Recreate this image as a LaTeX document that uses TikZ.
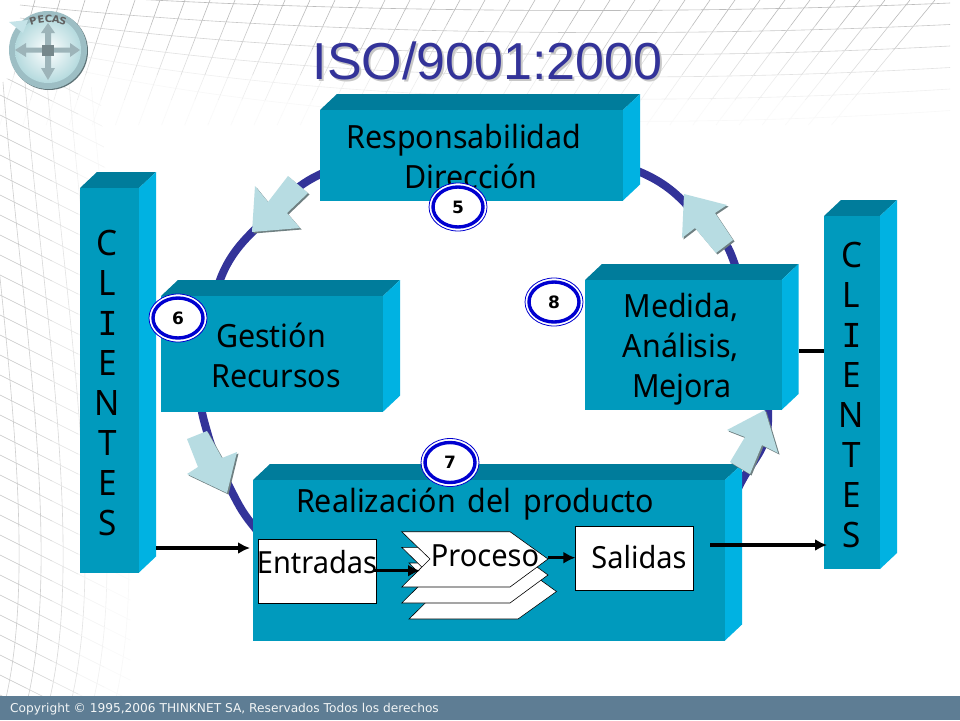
\documentclass[tikz,border=0pt]{standalone}
\usepackage{fontspec}
\usetikzlibrary{shapes.geometric,arrows.meta,calc}
\setmainfont[FakeStretch=0.95]{Noto Sans}
\newfontfamily\titlefont{Liberation Sans}
\newfontfamily\badgefont{DejaVu Sans}
\newfontfamily\monoI{DejaVu Sans Mono}
\definecolor{frontc}{HTML}{009ABD}
\definecolor{topc}{HTML}{007C9B}
\definecolor{sidec}{HTML}{00B2E2}
\definecolor{ringc}{HTML}{333399}
\definecolor{blockc}{HTML}{B7DCE2}
\definecolor{blockshade}{HTML}{6F8082}
\definecolor{badgeblue}{HTML}{0000D0}
\definecolor{meshc}{HTML}{8C8C8C}
\definecolor{footc}{HTML}{5E7D94}
\definecolor{logoedge}{HTML}{9DBEC4}
\definecolor{logoin}{HTML}{B5DADE}
\definecolor{logoarrow}{HTML}{9DB4B9}
\tikzset{
  lbl/.style={anchor=base,inner sep=0pt,font=\fontsize{32}{36}\selectfont,text=black},
  inlbl/.style={anchor=base,inner sep=0pt,font=\fontsize{30.5}{36}\selectfont,text=black},
  arr/.style={line width=3.2pt,-{Latex[length=12pt,width=12pt]}},
  plain/.style={line width=3.2pt},
  paper/.style={fill=white,draw=black,line width=0.7pt},
  frontface/.style={rectangle,fill=frontc,inner sep=0pt,outer sep=0pt},
}
\newcommand{\cubebox}[6]{%
  \fill[topc] (#2,#3) -- ({#2+#6},{#3-16}) -- ({#4+#6},{#3-16}) -- (#4,#3) -- cycle;
  \fill[sidec] (#4,#3) -- ({#4+#6},{#3-16}) -- ({#4+#6},{#5-16}) -- (#4,#5) -- cycle;
  \node[frontface,minimum width={#4-#2},minimum height={#5-#3}] (#1) at ({(#2+#4)/2},{(#3+#5)/2}) {};
}
\newcommand{\blockarrow}[1]{%
  \fill[blockshade] [shift={(1.5,1.5)}] #1;
  \fill[blockc] #1;
}
\newcommand{\badge}[4]{%
  \node[ellipse,draw=badgeblue,line width=0.8pt,fill=white,minimum width=58pt,minimum height=48pt,inner sep=0pt] (#1o) at (#2,#3) {};
  \node[ellipse,draw=badgeblue,line width=3.4pt,fill=white,minimum width=50pt,minimum height=40pt,inner sep=0pt,font=\badgefont\bfseries\fontsize{17}{19}\selectfont] (#1) at (#2,#3) {#4};
}
\begin{document}
\begin{tikzpicture}[x=1pt,y=-1pt]
\useasboundingbox (0,0) rectangle (960,720);
\fill[white] (0,0) rectangle (960,720);
% background mesh, top
\begin{scope}
\clip (0,0) rectangle (960,696);
\foreach \k/\p in {0/58,1/48,2/38,3/25,4/13,5/6}{
  \draw[meshc!\p,line width=0.6pt] (20,{-8+13*\k}) .. controls (300,{12+23*\k}) and (650,{16+23*\k}) .. (950,{3+21.5*\k});
}
\foreach \i in {0,...,36}{
  \pgfmathsetmacro\xt{35+25*\i}
  \pgfmathsetmacro\dxx{40+(\xt-100)*0.076}
  \foreach \s/\p in {0/60,1/46,2/30,3/15,4/5}{
    \draw[meshc!\p,line width=0.6pt] ({\xt-\dxx*\s/5},{25*\s}) -- ({\xt-\dxx*(\s+1)/5},{25*(\s+1)});
  }
}
\end{scope}
% background mesh, left
\begin{scope}
\clip (0,78) -- (100,88) -- (140,696) -- (0,696) -- cycle;
\foreach \j/\p in {-5/42,-4/42,-3/42,-2/42,-1/42,0/42,1/34,2/24,3/13,4/6}{
  \draw[meshc!\p,line width=0.6pt] ({3+22*\j},82) .. controls ({20+22*\j},300) and ({65+22*\j},560) .. ({25+22*\j},710);
}
\foreach \n in {0,...,32}{
  \pgfmathsetmacro\ya{85+20*\n}
  \foreach \s/\p in {0/50,1/40,2/24,3/10,4/4}{
    \draw[meshc!\p,line width=0.6pt] ({26*\s},{\ya-30+13*\s}) -- ({26*(\s+1)},{\ya-30+13*(\s+1)});
  }
}
\end{scope}
% footer
\fill[footc] (0,696) rectangle (960,720);
\node[anchor=base west,inner sep=0pt,text=white!92!footc,font=\badgefont\fontsize{12.2}{14}\selectfont] (foot) at (10,712) {Copyright © 1995,2006 THINKNET SA, Reservados Todos los derechos};
% logo
\fill[logoedge!60!black] (49,51) circle (39);
\fill[logoedge] (48,50) circle (39);
\shade[inner color=white,outer color=logoin] (48,50) circle (33);
\fill[blockc!80!white] (9,22) -- (28,20) -- (23,33) -- cycle;
\fill[logoarrow] (15,50) -- (26,43) -- (26,47.5) -- (70,47.5) -- (70,43) -- (80,50) -- (70,57) -- (70,52.5) -- (26,52.5) -- (26,57) -- cycle;
\fill[logoarrow] (48,23) -- (55,33) -- (51,33) -- (51,68) -- (55,68) -- (48,80) -- (41,68) -- (45,68) -- (45,33) -- (41,33) -- cycle;
\fill[logoarrow!75!black] (42,45) rectangle (54,56);
\foreach \nm/\c/\x/\y/\r in {l1/P/33/21/17,l2/E/41/19/8,l3/C/48.5/18.5/0,l4/A/56/19/-8,l5/S/63/21/-17}{
  \node[inner sep=0pt,rotate=\r,text=black!62,font=\badgefont\bfseries\fontsize{10}{11}\selectfont] (\nm) at (\x,\y) {\c};
}
% title with its soft shadow
\node[anchor=base,inner sep=0pt,text=ringc,font=\titlefont\fontsize{52}{60}\selectfont] (title) at (487.5,79.5) {\rlap{\hspace{2pt}\raisebox{-2pt}{\textcolor{black!22}{ISO/9001:2000}}}ISO/9001:2000};
% ring
\draw[ringc,line width=8pt] plot[smooth cycle,tension=.6] coordinates {(330,170) (270,215) (222,275) (201,380) (208,435) (232,492) (255,528) (300,575) (480,620) (680,560) (744,477) (768,410) (735,265) (705,225) (640,172) (480,130)};
% boxes
\cubebox{resp}{320}{110}{623}{200.5}{17}
\cubebox{clil}{80}{188}{139}{572.5}{17}
\cubebox{gest}{161}{296}{383}{411.7}{17}
\cubebox{real}{253}{480}{725}{640.5}{17}
\cubebox{medi}{585}{280}{781.5}{410}{17}
\cubebox{clir}{824}{216}{880}{569}{17}
% block arrows
\blockarrow{(288,176) -- (308,193) -- (287,213) -- (300,228) -- (252,232) -- (255,186) -- (268,202) -- cycle}
\blockarrow{(684,194) -- (727,205) -- (715,213) -- (733,240) -- (716,253) -- (695,228) -- (682,238) -- cycle}
\blockarrow{(765,410) -- (778,453) -- (762,445) -- (750,474) -- (730,462) -- (745,437) -- (727,430) -- cycle}
\blockarrow{(227,493) -- (187,474) -- (198,467) -- (187,439) -- (207,431) -- (222,458) -- (237,452) -- cycle}
% labels in boxes
\node[lbl] (tresp) at (464,148) {Responsabilidad};
\node[lbl] (tdir) at (471,188) {Dirección};
\node[lbl] (tgest) at (271,347) {Gestión};
\node[lbl] (trec) at (276,387) {Recursos};
\node[lbl] (tmed) at (681,317) {Medida,};
\node[lbl] (tana) at (681,357) {Análisis,};
\node[lbl] (tmej) at (682,397) {Mejora};
\node[lbl] (treal) at (475,512) {Realización\hspace{12pt}del\hspace{12pt}producto};
\node[align=center,inner sep=0pt,font=\fontsize{35}{40}\selectfont] (cl) at (107.5,383) {C\\L\\{\monoI\fontsize{33}{40}\selectfont I}\\E\\N\\T\\E\\S};
\node[align=center,inner sep=0pt,font=\fontsize{35}{40}\selectfont] (cr) at (851.5,395) {C\\L\\{\monoI\fontsize{33}{40}\selectfont I}\\E\\N\\T\\E\\S};
% process sheets
\filldraw[fill=white,draw=black,line width=0.6pt] (409,563) -- (517,563) -- (556.5,591.5) -- (518,619) -- (409,619) -- (437,591.5) -- cycle;
\filldraw[fill=white,draw=black,line width=0.6pt] (401.7,547.3) -- (510,547.3) -- (548,575) -- (510,603) -- (401.7,603) -- (430,575) -- cycle;
\filldraw[fill=white,draw=black,line width=0.6pt] (401.7,531.7) -- (510,531.7) -- (548,559) -- (510,587) -- (401.7,587) -- (430,559) -- cycle;
\node[paper,minimum width=118.5pt,minimum height=64pt,inner sep=0pt] (entr) at (317.5,571.3) {};
\node[paper,minimum width=117.5pt,minimum height=64pt,inner sep=0pt] (sali) at (634.5,558.7) {};
\node[inlbl] (tentr) at (317,573) {Entradas};
\node[inlbl] (tproc) at (485,566) {Proceso};
\node[inlbl] (tsali) at (639,568) {Salidas};
% connectors
\coordinate (pin) at (420,570.7);
\coordinate (eout) at (373,570.7);
\coordinate (pout) at (548,557.7);
\coordinate (cla) at (156,548);
\coordinate (ena) at (250,548);
\coordinate (sa) at (710,545);
\coordinate (cra) at (827,545);
\coordinate (ma) at (799,351);
\coordinate (mb) at (824,351);
\draw[arr] (eout) -- (pin);
\draw[arr] (pout) -- (pout -| sali.west);
\draw[arr] (cla) -- (ena);
\draw[arr] (sa) -- (cra);
\draw[plain] (ma) -- (mb);
% badges
\badge{b5}{458}{207}{5}
\badge{b7}{450}{462.5}{7}
\badge{b8}{554}{302}{8}
\badge{b6}{178}{318}{6}
\end{tikzpicture}
\end{document}
